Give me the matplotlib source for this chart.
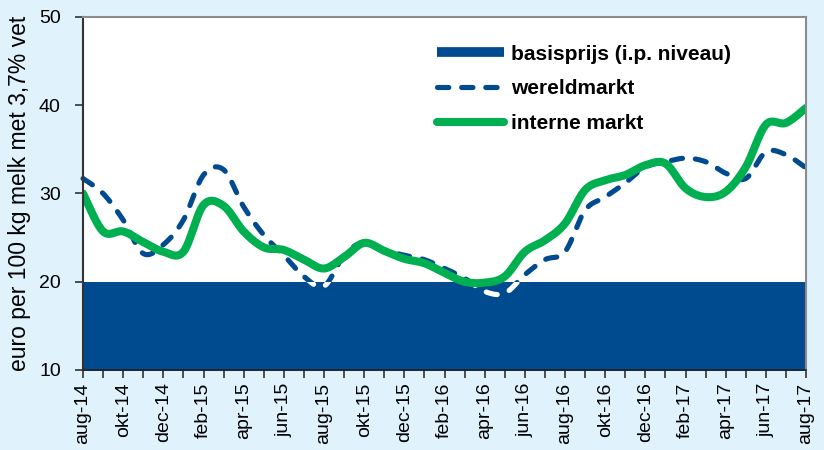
import numpy as np
import matplotlib
matplotlib.use("Agg")
import matplotlib.pyplot as plt
from matplotlib.patches import Rectangle
from matplotlib.lines import Line2D

plt.rcParams['font.family'] = ['Liberation Sans', 'DejaVu Sans']

# ---- data ----
month_names = ['aug', 'sep', 'okt', 'nov', 'dec', 'jan', 'feb', 'mrt', 'apr', 'mei', 'jun', 'jul']
months = []
yr = 14
for k in range(37):
    m = month_names[k % 12]
    if m == 'jan':
        yr += 1
    months.append(f"{m}-{yr}")

basisprijs = [20.0] * 37

wereldmarkt = [31.7, 30.0, 27.0, 23.2, 24.2, 27.0, 32.1, 32.7, 28.5, 25.3,
               23.0, 20.6, 19.5, 23.0, 24.5, 23.6, 23.0, 22.5, 21.5, 20.4,
               18.9, 18.7, 20.8, 22.5, 23.4, 28.1, 29.6, 31.2, 33.0, 33.6,
               34.0, 33.6, 32.3, 31.7, 34.7, 34.4, 32.9]

interne_markt = [30.0, 25.7, 25.7, 24.5, 23.4, 23.4, 28.7, 28.6, 25.7, 23.9,
                 23.6, 22.5, 21.5, 22.8, 24.4, 23.5, 22.6, 22.1, 21.0, 20.0,
                 19.9, 20.6, 23.4, 24.7, 26.6, 30.4, 31.5, 32.1, 33.2, 33.4,
                 30.6, 29.6, 30.2, 33.0, 37.8, 38.0, 39.7]


def smooth(y, n=24):
    """Catmull-Rom spline through the points (drawing style like Excel's smoothed lines)."""
    y = np.asarray(y, float)
    x = np.arange(len(y), dtype=float)
    P = np.concatenate([[y[0]], y, [y[-1]]])
    X = np.concatenate([[x[0]], x, [x[-1]]])
    xs, ys = [], []
    t = np.linspace(0, 1, n, endpoint=False)
    for i in range(1, len(P) - 2):
        p0, p1, p2, p3 = P[i - 1], P[i], P[i + 1], P[i + 2]
        q0, q1, q2, q3 = X[i - 1], X[i], X[i + 1], X[i + 2]
        f = lambda a0, a1, a2, a3: 0.5 * ((2 * a1) + (-a0 + a2) * t +
                                          (2 * a0 - 5 * a1 + 4 * a2 - a3) * t ** 2 +
                                          (-a0 + 3 * a1 - 3 * a2 + a3) * t ** 3)
        xs.append(f(q0, q1, q2, q3))
        ys.append(f(p0, p1, p2, p3))
    xs.append([x[-1]])
    ys.append([y[-1]])
    return np.concatenate(xs), np.concatenate(ys)


BG = '#E0F2FC'
BLUE = '#004A8F'
GREEN = '#00B050'

fig = plt.figure(figsize=(8.24, 4.5), dpi=100, facecolor=BG)
ax = fig.add_axes([83 / 824, 1 - 370 / 450, (806 - 83) / 824, (370 - 17) / 450])
ax.set_facecolor('white')

x = np.arange(len(months))

ax.fill_between(x, 0, basisprijs, color=BLUE, lw=0, zorder=1)

wx, wy = smooth(wereldmarkt)
DLW = 3.7
dash = (0, (2.2, 2.5))
l_blue, = ax.plot(wx, wy, color=BLUE, lw=DLW, linestyle=dash,
                  dash_capstyle='round', zorder=2)
l_white, = ax.plot(wx, wy, color='white', lw=DLW, linestyle=dash,
                   dash_capstyle='round', zorder=2)
clip_hi = Rectangle((-1, 20), 40, 40, transform=ax.transData)
clip_lo = Rectangle((-1, 0), 40, 20, transform=ax.transData)
l_blue.set_clip_path(clip_hi)
l_white.set_clip_path(clip_lo)

gx, gy = smooth(interne_markt)
ax.plot(gx, gy, color=GREEN, lw=5.8, solid_capstyle='round', zorder=3)

ax.set_xlim(0, len(months) - 1)
ax.set_ylim(10, 50)
ax.set_yticks([10, 20, 30, 40, 50])
ax.set_xticks(x)
ax.set_xticklabels([m if i % 2 == 0 else '' for i, m in enumerate(months)],
                   rotation=90, ha='center', va='top')
ax.tick_params(axis='both', direction='out', length=6, width=1.1,
               colors='#222222', labelsize=14, labelcolor='black')
ax.tick_params(axis='x', pad=3)
ax.tick_params(axis='y', pad=10)
for s in ['top', 'right']:
    ax.spines[s].set_color('#8C8C8C')
    ax.spines[s].set_linewidth(1.5)
ax.spines['left'].set_color('#333333')
ax.spines['left'].set_linewidth(1.5)
ax.spines['bottom'].set_color('#222222')
ax.spines['bottom'].set_linewidth(1.2)
for s in ax.spines.values():
    s.set_zorder(5)

ax.set_ylabel('euro per 100 kg melk met 3,7% vet', fontsize=16.5, labelpad=6)

handles = [
    Line2D([], [], color=BLUE, lw=7, solid_capstyle='butt'),
    Line2D([], [], color=BLUE, lw=DLW, linestyle=dash, dash_capstyle='round'),
    Line2D([], [], color=GREEN, lw=5.8, solid_capstyle='round'),
]
labels = ['basisprijs (i.p. niveau)', 'wereldmarkt', 'interne markt']
leg = ax.legend(handles, labels, loc='upper left', bbox_to_anchor=(0.464, 0.975),
                frameon=False, handlelength=3.2, handletextpad=0.35,
                labelspacing=0.75, prop={'size': 15, 'weight': 'bold'})

fig.savefig('out.png', dpi=100, facecolor=BG)
